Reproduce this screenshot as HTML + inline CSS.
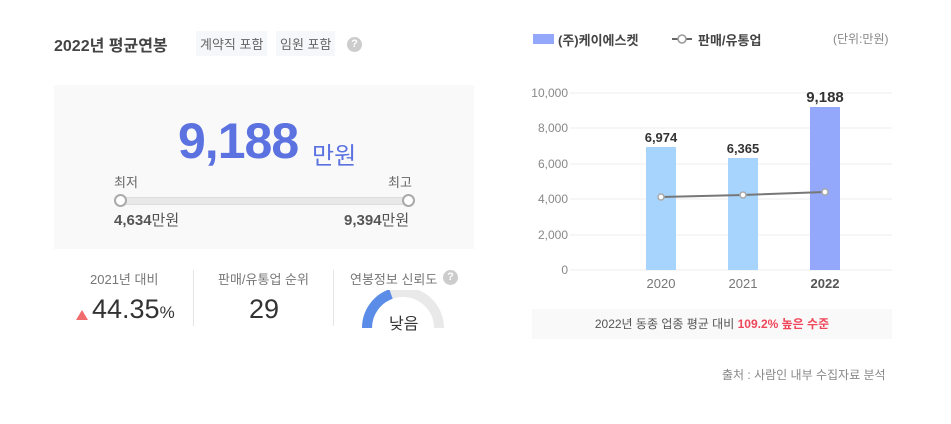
<!DOCTYPE html>
<html><head><meta charset="utf-8"><style>
body{margin:0;width:951px;height:424px;background:#fff;font-family:"Liberation Sans","Noto Sans CJK KR",sans-serif;position:relative;overflow:hidden;color:#333}
.a{position:absolute;white-space:nowrap}
.tag{background:#f5f7fb;color:#666;font-size:13px;padding:3px 4px}
</style></head><body>
<div class="a" style="left:54px;top:32px;font-size:16px;font-weight:bold;color:#444">2022년 평균연봉</div>
<div class="a tag" style="left:196px;top:31px">계약직 포함</div>
<div class="a tag" style="left:276px;top:31px">임원 포함</div>
<div class="a" style="left:347px;top:37px;width:15px;height:15px;border-radius:50%;background:#ccc;color:#fff;font-size:11px;font-weight:bold;text-align:center;line-height:15px">?</div>
<div class="a" style="left:54px;top:85px;width:420px;height:164px;background:#f9f9f9"></div>
<div class="a" style="left:178px;top:112px;font-size:50px;font-weight:bold;color:#5b72e0;letter-spacing:-1px">9,188</div>
<div class="a" style="left:312px;top:136px;font-size:24px;color:#5b72e0">만원</div>
<div class="a" style="left:114px;top:172px;font-size:13px;color:#666">최저</div>
<div class="a" style="left:388px;top:172px;font-size:13px;color:#666">최고</div>
<div class="a" style="left:120px;top:197px;width:288px;height:6px;background:#e8e8e8;border:1px solid #ddd;border-radius:3px"></div>
<div class="a" style="left:114px;top:194px;width:9px;height:9px;border:2px solid #aaa;border-radius:50%;background:#fff"></div>
<div class="a" style="left:402px;top:194px;width:9px;height:9px;border:2px solid #aaa;border-radius:50%;background:#fff"></div>
<div class="a" style="left:114px;top:209px;font-size:15px;color:#555"><b>4,634</b>만원</div>
<div class="a" style="left:344px;top:209px;font-size:15px;color:#555"><b>9,394</b>만원</div>
<div class="a" style="left:90px;top:269px;font-size:13px;color:#777">2021년 대비</div>
<div class="a" style="left:76px;top:310px;width:0;height:0;border-left:6px solid transparent;border-right:6px solid transparent;border-bottom:10px solid #f06b6b"></div>
<div class="a" style="left:92px;top:294px;font-size:27px;color:#333">44.35<span style="font-size:17px">%</span></div>
<div class="a" style="left:193px;top:270px;width:1px;height:56px;background:#e5e5e5"></div>
<div class="a" style="left:218px;top:269px;font-size:13px;color:#777">판매/유통업 순위</div>
<div class="a" style="left:249px;top:294px;font-size:27px;color:#333">29</div>
<div class="a" style="left:333px;top:270px;width:1px;height:56px;background:#e5e5e5"></div>
<div class="a" style="left:350px;top:269px;font-size:13px;color:#777">연봉정보 신뢰도</div>
<div class="a" style="left:443px;top:270px;width:15px;height:15px;border-radius:50%;background:#ccc;color:#fff;font-size:11px;font-weight:bold;text-align:center;line-height:15px">?</div>
<svg class="a" style="left:360px;top:290px" width="90" height="40">
<path d="M43 38 m-36 0 a36 36 0 0 1 72 0" fill="none" stroke="#e9e9e9" stroke-width="10"/>
<path d="M7 38 A36 36 0 0 1 31 4" fill="none" stroke="#5b8ce8" stroke-width="10"/>
</svg>
<div class="a" style="left:389px;top:310px;font-size:16px;color:#333">낮음</div>

<div class="a" style="left:533px;top:34px;width:21px;height:10px;background:#94a8fb"></div>
<div class="a" style="left:558px;top:30px;font-size:13px;font-weight:bold;color:#444">(주)케이에스켓</div>
<svg class="a" style="left:671px;top:32px" width="22" height="14"><line x1="1" y1="7" x2="21" y2="7" stroke="#666" stroke-width="2"/><circle cx="11" cy="7" r="4" fill="#fff" stroke="#999" stroke-width="1.5"/></svg>
<div class="a" style="left:698px;top:30px;font-size:13px;font-weight:bold;color:#444">판매/유통업</div>
<div class="a" style="left:833px;top:30px;font-size:12px;color:#888">(단위:만원)</div>
<svg class="a" style="left:520px;top:80px" width="380" height="220">
<g stroke="#eee" stroke-width="1">
<line x1="50" y1="13" x2="372" y2="13"/><line x1="50" y1="48" x2="372" y2="48"/><line x1="50" y1="84" x2="372" y2="84"/><line x1="50" y1="119" x2="372" y2="119"/><line x1="50" y1="155" x2="372" y2="155"/><line x1="50" y1="190" x2="372" y2="190"/></g>
<g font-size="12" fill="#888" text-anchor="end" font-family="Liberation Sans,sans-serif">
<text x="48" y="17">10,000</text><text x="48" y="52">8,000</text><text x="48" y="88">6,000</text><text x="48" y="123">4,000</text><text x="48" y="159">2,000</text><text x="48" y="194">0</text></g>
<rect x="126" y="67" width="30" height="123" fill="#a6d4fd"/>
<rect x="208" y="78" width="30" height="112" fill="#a6d4fd"/>
<rect x="290" y="27" width="30" height="163" fill="#94a8fb"/>
<g font-size="13" font-weight="bold" fill="#333" text-anchor="middle" font-family="Liberation Sans,sans-serif">
<text x="141" y="62">6,974</text><text x="223" y="73">6,365</text><text x="305" y="22" font-size="15">9,188</text></g>
<polyline points="141,117 223,115 305,112" fill="none" stroke="#777" stroke-width="2"/>
<g fill="#fff" stroke="#aaa" stroke-width="1.5"><circle cx="141" cy="117" r="3"/><circle cx="223" cy="115" r="3"/><circle cx="305" cy="112" r="3"/></g>
<g font-size="13" fill="#777" text-anchor="middle" font-family="Liberation Sans,sans-serif">
<text x="141" y="208">2020</text><text x="223" y="208">2021</text><text x="305" y="208" font-weight="bold" fill="#555">2022</text></g>
</svg>
<div class="a" style="left:532px;top:309px;width:360px;height:30px;background:#f9f9f9;text-align:center;line-height:30px;font-size:12px;color:#555">2022년 동종 업종 평균 대비 <span style="color:#f0465a;font-weight:bold">109.2% 높은 수준</span></div>
<div class="a" style="left:722px;top:366px;font-size:12px;color:#888">출처 : 사람인 내부 수집자료 분석</div>
</body></html>
